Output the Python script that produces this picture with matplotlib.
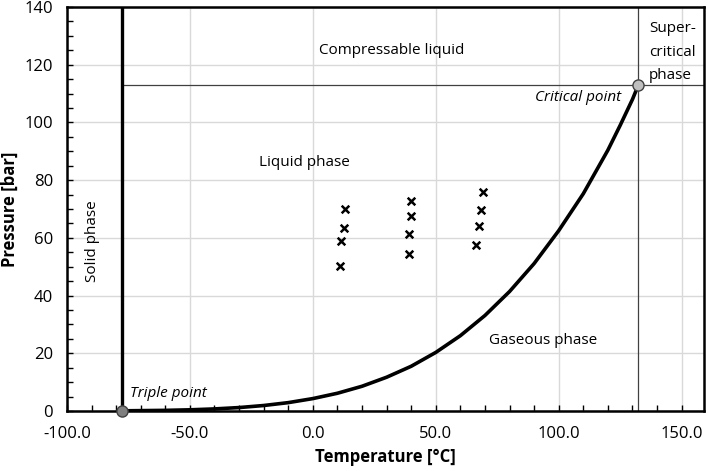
import numpy as np
import matplotlib.pyplot as plt
from matplotlib.ticker import MultipleLocator, FormatStrFormatter

plt.rcParams['font.family'] = ['Open Sans', 'DejaVu Sans']

# saturation (vapour pressure) curve
sat_temp = [-77.7, -60, -50, -40, -30, -20, -10, 0, 10, 20, 30, 40, 50, 60,
            70, 80, 90, 100, 110, 120, 125, 130, 132.4]
sat_pres = [0.06, 0.22, 0.41, 0.72, 1.19, 1.9, 2.9, 4.3, 6.15, 8.57, 11.7, 15.5,
            20.3, 26.1, 33.1, 41.4, 51.1, 62.5, 75.3, 90.4, 99.0, 108.0, 113.0]

# measurement points (x markers)
meas_temp = [13.0, 12.6, 11.3, 11.0, 40.0, 40.0, 39.1, 39.1, 69.2, 68.5, 67.7, 66.4]
meas_pres = [70.0, 63.4, 58.8, 50.4, 72.8, 67.6, 61.2, 54.3, 75.9, 69.6, 64.0, 57.7]

triple_t, triple_p = -77.7, 0.06
crit_t, crit_p = 132.4, 113.0

fig = plt.figure(figsize=(7.08, 4.71), dpi=100)
ax = fig.add_axes([0.0946, 0.1274, 0.8994, 0.8576])

ax.set_xlim(-100, 159)
ax.set_ylim(0, 140)

ax.xaxis.set_major_locator(MultipleLocator(50))
ax.xaxis.set_minor_locator(MultipleLocator(10))
ax.yaxis.set_major_locator(MultipleLocator(20))
ax.yaxis.set_minor_locator(MultipleLocator(5))
ax.xaxis.set_major_formatter(FormatStrFormatter('%.1f'))
ax.grid(True, which='major', color='#d9d9d9', linewidth=1.0, zorder=0)
ax.tick_params(which='both', direction='in', length=4, width=1.0, labelsize=12)
ax.tick_params(axis='x', pad=11)
ax.tick_params(axis='y', pad=10)
for s in ax.spines.values():
    s.set_linewidth(1.8)

# phase boundaries
ax.plot([triple_t, triple_t], [0, 140], color='black', linewidth=2.4, zorder=3)
ax.plot([triple_t, 159], [crit_p, crit_p], color='#404040', linewidth=0.9, zorder=2)
ax.plot([crit_t, crit_t], [0, 140], color='#404040', linewidth=0.9, zorder=2)
ax.plot(sat_temp, sat_pres, color='black', linewidth=2.6, zorder=3,
        solid_joinstyle='round', solid_capstyle='round')

ax.scatter(meas_temp, meas_pres, marker='x', color='black', s=30, linewidths=1.8, zorder=4)

ax.plot([triple_t], [triple_p], 'o', markersize=8, markerfacecolor='#7f7f7f',
        markeredgecolor='#404040', clip_on=False, zorder=5)
ax.plot([crit_t], [crit_p], 'o', markersize=8, markerfacecolor='#bfbfbf',
        markeredgecolor='#404040', clip_on=False, zorder=5)

ax.text(-74.5, 6.2, 'Triple point', style='italic', fontsize=11, va='center')
ax.text(125.5, 108.6, 'Critical point', style='italic', fontsize=11, ha='right', va='center')
ax.text(32, 125, 'Compressable liquid', fontsize=11, ha='center', va='center')
ax.text(-3.6, 86, 'Liquid phase', fontsize=11, ha='center', va='center')
ax.text(-89.5, 59, 'Solid phase', fontsize=11, rotation=90, ha='center', va='center')
ax.text(93.5, 24.6, 'Gaseous phase', fontsize=11, ha='center', va='center')
ax.text(136.8, 135, 'Super-\ncritical\nphase', fontsize=11, ha='left', va='top',
        linespacing=1.75)

ax.set_xlabel('Temperature [°C]', fontsize=12, fontweight='bold', labelpad=4)
ax.set_ylabel('Pressure [bar]', fontsize=12, fontweight='bold', labelpad=4)

fig.savefig('out.png', dpi=100)
